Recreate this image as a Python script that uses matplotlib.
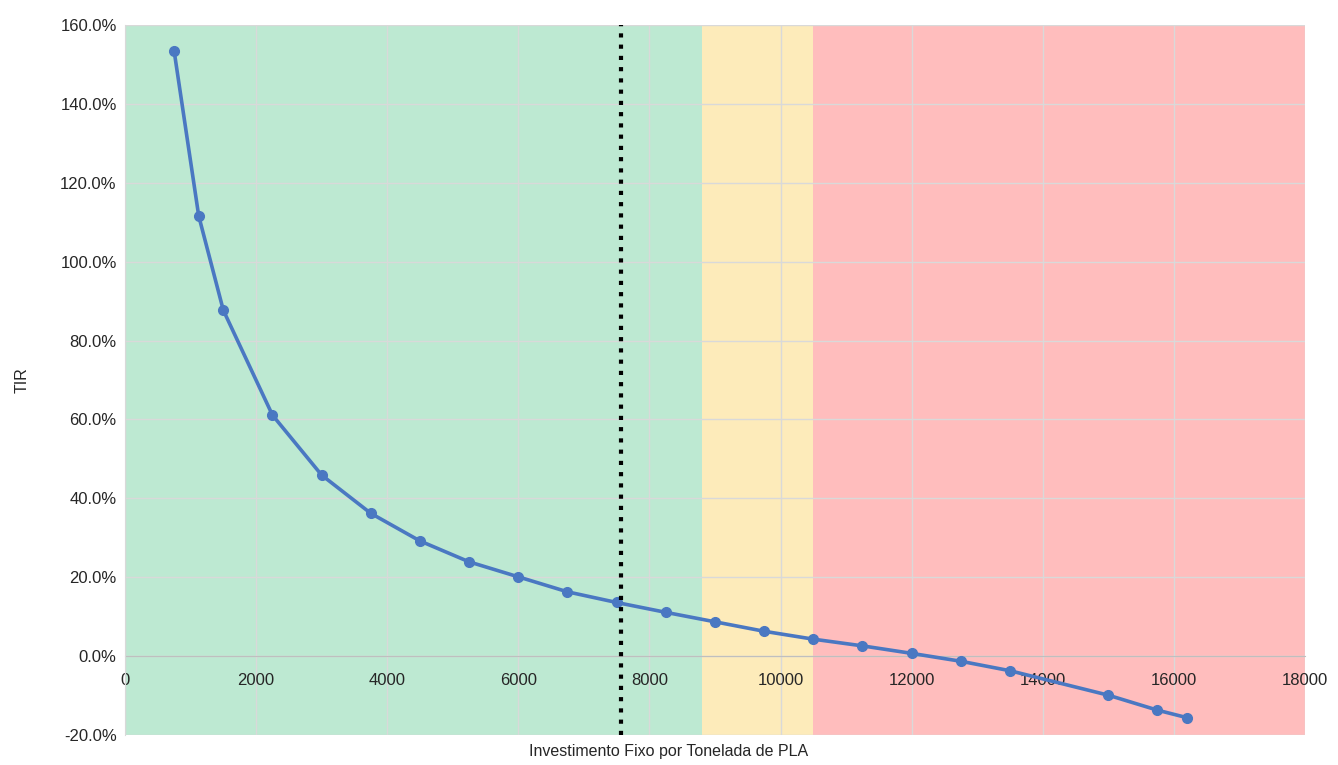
import matplotlib
matplotlib.use('Agg')
import matplotlib.pyplot as plt
from matplotlib.ticker import PercentFormatter, MultipleLocator

plt.rcParams['font.family'] = ['Liberation Sans', 'DejaVu Sans']
plt.rcParams['axes.unicode_minus'] = False

# investimento fixo (por tonelada) vs TIR
investimento = [750, 1125, 1500, 2250, 3000, 3750, 4500, 5250, 6000, 6750, 7500,
                8250, 9000, 9750, 10500, 11250, 12000, 12750, 13500, 15000, 15750, 16200]
tir = [1.534, 1.116, 0.877, 0.611, 0.459, 0.362, 0.292, 0.239, 0.201, 0.163, 0.136,
       0.111, 0.087, 0.063, 0.043, 0.026, 0.007, -0.013, -0.037, -0.099, -0.137, -0.156]

# faixas de viabilidade
faixas = [(0, 8800, '#BDE9D2'), (8800, 10500, '#FDEBBA'), (10500, 18000, '#FFBDBD')]
referencia = 7560

fig = plt.figure(figsize=(13.38, 7.65), dpi=100)
ax = fig.add_axes([0.0934, 0.0392, 0.8819, 0.9281])

for x0, x1, cor in faixas:
    ax.axvspan(x0, x1, color=cor, zorder=0, lw=0)

ax.set_axisbelow(True)
ax.grid(True, color='#D9D9D9', lw=1)

ax.plot(investimento, tir, color='#4A78C2', lw=2.6, marker='o', ms=7, zorder=3)
ax.axvline(referencia, color='black', lw=3, ls=(0, (1, 1.7)), zorder=4)

ax.set_xlim(0, 18000)
ax.set_ylim(-0.2, 1.6)
ax.xaxis.set_major_locator(MultipleLocator(2000))
ax.yaxis.set_major_locator(MultipleLocator(0.2))
ax.yaxis.set_major_formatter(PercentFormatter(xmax=1, decimals=1))

for s in ['top', 'right']:
    ax.spines[s].set_visible(False)
ax.spines['left'].set_color('#D9D9D9')
ax.spines['bottom'].set_position(('data', 0))
ax.spines['bottom'].set_color('#BFBFBF')
ax.spines['bottom'].set_zorder(1)
ax.tick_params(length=0, labelsize=12, colors='#262626', pad=6)
ax.tick_params(axis='x', pad=12)

ax.set_ylabel('TIR', fontsize=11.5, color='#262626', labelpad=22)
fig.text(0.5, 0.017, 'Investimento Fixo por Tonelada de PLA', ha='center', va='center',
         fontsize=11.5, color='#262626')

fig.savefig('out.png', dpi=100)
